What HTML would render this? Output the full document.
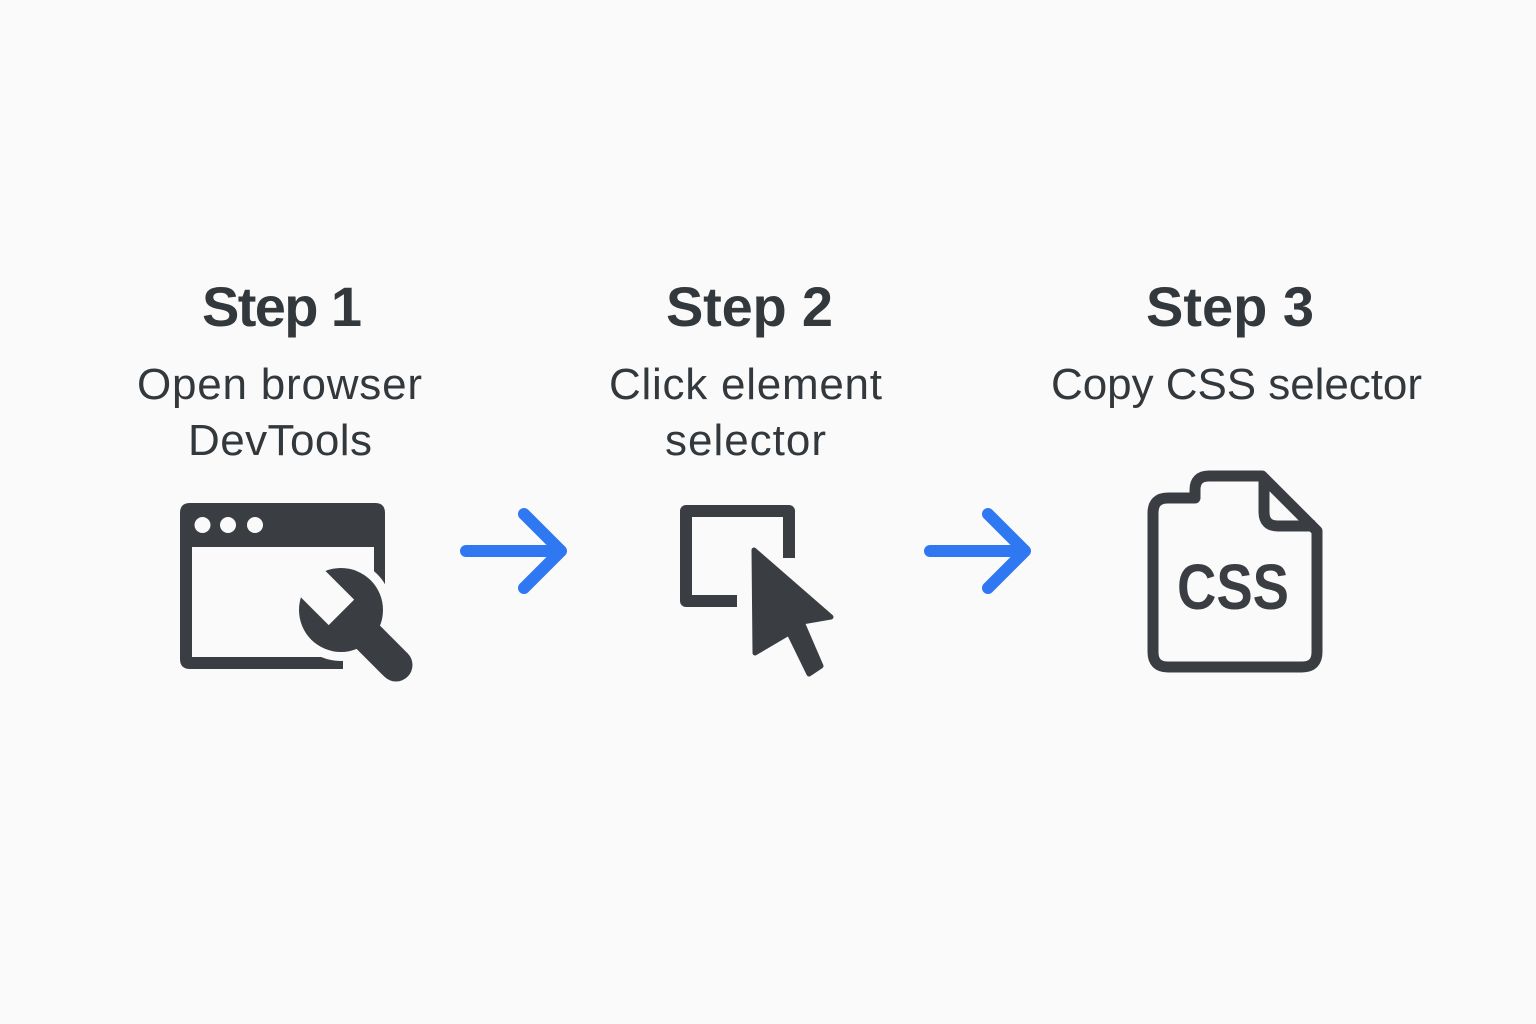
<!DOCTYPE html>
<html>
<head>
<meta charset="utf-8">
<style>
  html, body { margin: 0; padding: 0; background: #fafafa; }
  body { width: 1536px; height: 1024px; overflow: hidden; }
  svg { display: block; }
  .t { font-family: "Liberation Sans", Arial, sans-serif; fill: #33383d; }
</style>
</head>
<body>
<svg width="1536" height="1024" viewBox="0 0 1536 1024" xmlns="http://www.w3.org/2000/svg">
  <rect width="1536" height="1024" fill="#fafafa"/>

  <!-- Titles -->
  <text class="t" x="282" y="326" font-size="56" font-weight="bold" text-anchor="middle" textLength="160">Step 1</text>
  <text class="t" x="749.5" y="326" font-size="56" font-weight="bold" text-anchor="middle" textLength="167">Step 2</text>
  <text class="t" x="1230" y="326" font-size="56" font-weight="bold" text-anchor="middle" textLength="168">Step 3</text>

  <!-- Subtitles -->
  <text class="t" x="279.5" y="399" font-size="44" text-anchor="middle" textLength="285">Open browser</text>
  <text class="t" x="280" y="455" font-size="44" text-anchor="middle" textLength="184">DevTools</text>
  <text class="t" x="745.5" y="399" font-size="44" text-anchor="middle" textLength="273">Click element</text>
  <text class="t" x="745.5" y="455" font-size="44" text-anchor="middle" textLength="161">selector</text>
  <text class="t" x="1236.5" y="399" font-size="44" text-anchor="middle" textLength="371">Copy CSS selector</text>

  <!-- Icon 1: browser window + wrench -->
  <g fill="#3a3e43">
    <path d="M180 547 V513 Q180 503 190 503 H375 Q385 503 385 513 V547 Z"/>
    <path d="M180 545 H192 V657 H180 Z"/>
    <path d="M180 655 V659 Q180 669 190 669 H343 V657 H180 Z"/>
    <rect x="374" y="545" width="11" height="60"/>
  </g>
  <g fill="#fafafa">
    <circle cx="202.5" cy="525" r="8"/>
    <circle cx="228" cy="525" r="8"/>
    <circle cx="255" cy="525" r="8"/>
  </g>
  <!-- wrench outline gap -->
  <circle cx="341" cy="610" r="51" fill="#fafafa"/>
  <line x1="341" y1="610" x2="396" y2="665" stroke="#fafafa" stroke-width="48" stroke-linecap="round"/>
  <defs>
    <mask id="notch" maskUnits="userSpaceOnUse" x="0" y="0" width="1536" height="1024">
      <rect x="0" y="0" width="1536" height="1024" fill="#fff"/>
      <rect x="-18" y="-70" width="36" height="72" fill="#000" transform="translate(340 611) rotate(-45)"/>
    </mask>
  </defs>
  <circle cx="341" cy="610" r="42" fill="#3a3e43" mask="url(#notch)"/>
  <line x1="364" y1="633" x2="396" y2="665" stroke="#3a3e43" stroke-width="33" stroke-linecap="round"/>

  <!-- Arrow 1 -->
  <g fill="none" stroke="#2f78f2" stroke-width="12" stroke-linecap="round" stroke-linejoin="round">
    <line x1="466" y1="551" x2="560" y2="551"/>
    <polyline points="524,514 561,551 524,588"/>
  </g>

  <!-- Icon 2: selection square + cursor -->
  <path d="M737 601 H686 V511 H789 V558" fill="none" stroke="#3a3e43" stroke-width="12" stroke-linejoin="round"/>
  <polygon points="754,550 831,617 802,622 821,666 809,674 789,633 755,653" fill="#3a3e43" stroke="#3a3e43" stroke-width="5" stroke-linejoin="round"/>

  <!-- Arrow 2 -->
  <g fill="none" stroke="#2f78f2" stroke-width="12" stroke-linecap="round" stroke-linejoin="round">
    <line x1="930" y1="551" x2="1024" y2="551"/>
    <polyline points="988,514 1025,551 988,588"/>
  </g>

  <!-- Icon 3: CSS file -->
  <path d="M1195 498 V490 Q1195 476 1209 476 H1262 L1317 531 V652 Q1317 667 1302 667 H1168 Q1153 667 1153 652 V513 Q1153 498 1168 498 Z"
        fill="none" stroke="#3a3e43" stroke-width="11" stroke-linejoin="round"/>
  <path d="M1264 478 V512 Q1264 526 1278 526 H1315" fill="none" stroke="#3a3e43" stroke-width="11" stroke-linejoin="round"/>
  <text x="1233" y="609" font-family="'Liberation Sans', Arial, sans-serif" font-size="64" font-weight="bold" fill="#3a3e43" text-anchor="middle" textLength="112" lengthAdjust="spacingAndGlyphs">CSS</text>
</svg>
</body>
</html>
